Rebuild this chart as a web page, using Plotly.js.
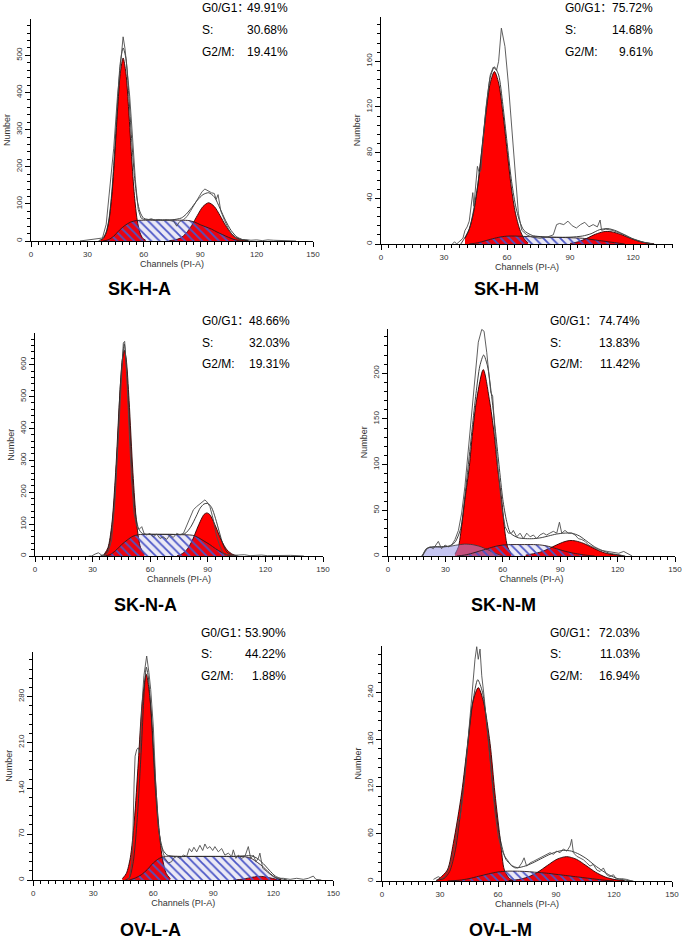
<!DOCTYPE html>
<html>
<head>
<meta charset="utf-8">
<script src="https://cdn.plot.ly/plotly-3.0.1.min.js"></script>
<style>html,body{margin:0;padding:0;background:#fff;}#chart{width:685px;height:939px;}</style>
</head>
<body>
<div id="chart"></div>
<script>
// ---------- labels ----------
const panelNames = ['SK-H-A', 'SK-H-M', 'SK-N-A', 'SK-N-M', 'OV-L-A', 'OV-L-M'];
const g0g1Values = ['49.91%', '75.72%', '48.66%', '74.74%', '53.90%', '72.03%'];
const sValues = ['30.68%', '14.68%', '32.03%', '13.83%', '44.22%', '11.03%'];
const g2mValues = ['19.41%', '9.61%', '19.31%', '11.42%', '1.88%', '16.94%'];
const rowLabels = ['G0/G1：', 'S:', 'G2/M:'];
const xTitle = 'Channels (PI-A)';
const yTitle = 'Number';
const xMax = [150, 139, 150, 150, 150, 150];
const yMax = [600, 200, 700, 250, 350, 300];
const yStep = [100, 40, 100, 50, 70, 60];
const yMinorStep = [20, 8, 20, 10, 14, 12];

// ---------- SK-H-A ----------
const p1_g1x = [37, 38.5, 40, 41.5, 43, 44.5, 46, 47.5, 49, 50.5, 52, 53.5, 55, 56.5, 58, 59.5, 61];
const p1_g1y = [2, 7, 22, 56, 123, 227, 350, 452, 493, 452, 350, 227, 123, 56, 22, 7, 2];
const p1_g2x = [73.5, 76.5, 79.5, 82.5, 85.5, 88.5, 91.5, 94.5, 97.5, 100.5, 103.5, 106.5, 109.5, 112.5, 115.5];
const p1_g2y = [1, 3, 8, 21, 42, 69, 93, 103, 93, 69, 42, 21, 8, 3, 1];
const p1_sx = [38, 41, 44, 47, 50, 53, 56, 60, 70, 80, 84, 87, 90, 93, 96, 99, 102, 105, 108, 111, 113];
const p1_sy = [0, 3, 13, 29, 42, 51, 55, 56, 56, 56, 55, 51, 44, 38, 32, 24, 17, 10, 4, 1, 0];
const p1_fitx = [36, 38, 40, 41.5, 43, 44.5, 46, 47.5, 49, 50.5, 52, 53.5, 55, 56.5, 58, 60, 65, 70, 75, 80, 82.5, 85.5, 88.5, 91.5, 94.5, 97.5, 100.5, 103.5, 106.5, 109.5, 112.5, 116];
const p1_fity = [1, 6, 24, 60, 132, 245, 372, 480, 520, 492, 395, 276, 176, 110, 78, 61, 57, 57, 57, 62, 72, 90, 110, 125, 130, 119, 88, 55, 28, 11, 4, 0];
const p1_rawx = [26, 28, 30, 32, 34, 36, 38, 40, 42, 44, 46, 47.5, 49, 50, 51, 52.5, 54, 55.5, 57, 58.5, 60, 62, 64, 66, 68, 70, 72, 74, 76, 77.5, 79, 81, 83, 85, 87, 89, 91, 92.5, 94, 96, 97.5, 98.5, 99.5, 101, 103, 105, 107, 109, 111, 114, 117, 120, 123, 126, 129, 132, 135, 138, 141];
const p1_rawy = [0, 1, 4, 3, 5, 5, 8, 45, 140, 250, 390, 480, 550, 518, 470, 390, 280, 165, 85, 62, 58, 57, 60, 56, 58, 55, 57, 56, 53, 40, 52, 57, 66, 82, 100, 117, 133, 140, 135, 130, 128, 112, 125, 80, 55, 33, 16, 8, 3, 4, 2, 3, 1, 3, 2, 1, 2, 1, 0];
const p1_marks = [48.7, 92];

// ---------- SK-H-M ----------
const p2_g1x = [40, 42, 44, 46, 48, 50, 52, 54, 56, 58, 60, 62, 64, 66, 68, 70];
const p2_g1y = [5, 13, 27, 50, 82, 115, 141, 151, 141, 115, 82, 50, 27, 13, 5, 1];
const p2_g2x = [90, 94, 98, 102, 106, 108, 110, 114, 118, 122, 126, 130];
const p2_g2y = [0.5, 2, 5, 8.5, 10.8, 11, 10.6, 8.5, 5.5, 2.8, 1, 0.3];
const p2_sx = [42, 46, 50, 54, 58, 62, 70, 80, 90, 96, 100, 104, 108, 112, 116];
const p2_sy = [0, 1, 3, 5, 6.5, 7, 6.5, 6, 5.5, 5, 4, 3, 2, 1, 0];
const p2_fitx = [38, 42, 46, 50, 52, 54, 56, 58, 60, 62, 64, 66, 68, 72, 80, 90, 96, 100, 104, 108, 112, 116, 120, 124, 128];
const p2_fity = [0, 13, 51, 118, 146, 155, 148, 122, 89, 57, 34, 20, 12, 7.5, 6, 6, 7, 9, 12.5, 13.5, 11.5, 8, 4.5, 2, 0.5];
const p2_rawx = [34, 35, 36, 38, 39, 40, 41, 42, 43.7, 44.2, 45.9, 46.8, 47.6, 48.4, 50, 52, 53.5, 55, 56, 57.3, 59, 60.6, 62.2, 63.8, 65.4, 67, 69.4, 72, 75.7, 79, 82, 83.6, 85, 87, 89, 91, 93, 95, 97, 99, 101, 103, 104.3, 105, 107, 110, 113, 116, 119, 122, 125, 128, 130];
const p2_rawy = [0, 2, 0, 3, 5, 12, 15, 20, 45, 33, 68, 62, 65, 86, 120, 148, 155, 152, 160, 189, 173, 141, 103, 62, 27, 12, 8, 6, 5, 6, 8, 17, 18, 17, 20, 16, 14, 17, 19, 15, 17, 15, 21, 12, 13, 12, 10, 8, 5, 3, 1.5, 0.5, 0];
const p2_marks = [56.8, 104.6];

// ---------- SK-N-A ----------
const p3_g1x = [36, 38, 40, 42, 44, 45.5, 46.5, 47.5, 49, 51, 53, 55, 57];
const p3_g1y = [5, 26, 98, 262, 488, 617, 645, 617, 488, 262, 98, 26, 5];
const p3_g2x = [74, 76, 79, 82, 85, 88, 89.5, 91, 94, 97, 100, 103, 105];
const p3_g2y = [1, 5, 19, 50, 94, 130, 135, 130, 94, 50, 19, 5, 1];
const p3_sx = [36, 39, 42, 45, 48, 51, 54, 58, 65, 75, 82, 85, 88, 91, 94, 97, 100, 103];
const p3_sy = [0, 4, 17, 35, 50, 62, 67, 68, 68, 67, 65, 58, 47, 36, 23, 12, 4, 0];
const p3_fitx = [34, 37, 39, 41, 43, 44.5, 46.5, 48, 49.5, 51, 52.5, 54, 56, 60, 70, 78, 81, 84, 86, 88, 90, 92, 94, 96, 98, 100, 103, 106];
const p3_fity = [0, 8, 45, 150, 350, 540, 665, 560, 380, 220, 125, 85, 70, 68, 68, 70, 90, 125, 150, 163, 165, 152, 118, 75, 35, 12, 3, 0];
const p3_rawx = [28, 29.5, 31.3, 33, 34.7, 36.5, 38.2, 39.9, 41.7, 43.4, 44.8, 46, 46.7, 47.7, 49.1, 50.3, 51.6, 52.9, 54.3, 55.6, 56.8, 58.2, 59.9, 61.6, 63.4, 65.1, 66.8, 68.6, 70.3, 72, 73.8, 75.5, 77.3, 79.9, 82.5, 84.2, 86.5, 88.5, 89.5, 91.1, 92.9, 94.6, 96.4, 98.1, 100, 103, 106, 109, 112, 115, 118, 121, 125, 129, 133, 137, 140];
const p3_rawy = [0, 0, 6, 10, 3, 0, 14, 50, 176, 365, 543, 668, 673, 575, 386, 239, 134, 94, 84, 92, 71, 66, 71, 60, 69, 55, 60, 52, 66, 58, 71, 66, 71, 108, 145, 155, 165, 176, 170, 155, 113, 61, 29, 8, 4, 2, 3, 4, 1, 2, 3, 1, 2, 1, 2, 1, 0];
const p3_marks = [46.9, 88.5];

// ---------- SK-N-M ----------
const p4_g1x = [35, 36.8, 38, 40.2, 42.5, 44.2, 46.3, 49.8, 53, 55.4, 57.2, 59.4, 61.2, 62.5, 64.5];
const p4_g1y = [2, 10, 25, 62, 98, 135, 171, 204, 171, 135, 98, 62, 25, 10, 2];
const p4_g2x = [72, 76, 80, 84, 88, 92, 95, 98, 102, 106, 110, 114, 118, 122];
const p4_g2y = [1, 2.5, 4.5, 8, 12, 15.5, 17, 16.5, 14, 10, 6, 3, 1.5, 0.5];
const p4_debrisx = [18, 19.5, 21, 24, 28, 32, 36, 40, 44, 48, 52, 56, 60];
const p4_debrisy = [0, 5, 9, 10, 10, 10.5, 12, 13, 12.5, 10.5, 7, 3, 0];
const p4_sx = [36, 40, 44, 48, 52, 56, 60, 64, 70, 76, 80, 84, 88, 92, 96, 100, 104, 108];
const p4_sy = [0, 1, 3, 5.5, 8, 10.5, 12, 12.5, 12.5, 12.5, 12, 10.5, 8, 5.5, 3.5, 2, 0.8, 0];
const p4_fitx = [18, 20, 24, 28, 32, 35, 38, 40, 42, 44, 46, 48, 50, 52, 54, 56, 58, 60, 62, 64, 68, 72, 76, 80, 84, 88, 92, 96, 100, 104, 108, 112, 116, 120, 124];
const p4_fity = [0, 8, 10, 10, 11, 15, 30, 62, 100, 140, 178, 208, 220, 208, 178, 140, 100, 62, 38, 25, 20, 19, 19, 20, 22, 24, 25, 25, 22, 16, 10, 6, 3, 1.5, 0];
const p4_rawx = [17.6, 20.2, 22, 23.7, 26.3, 28, 29.8, 31.5, 33.3, 35, 36.8, 38.5, 40.2, 42, 43.7, 45.5, 47.2, 49, 50.2, 51.6, 52.4, 53.7, 54.7, 55.9, 57.7, 59.4, 61.2, 62.9, 64.6, 65.5, 67.3, 69, 70.8, 72.5, 74.3, 76, 77.7, 79.4, 81.2, 82.9, 84.6, 86.4, 88.2, 89.6, 90.8, 92.5, 94.3, 96, 97.8, 99.5, 101.3, 103, 104.8, 106.6, 108.4, 110, 111.9, 114.5, 118, 120.6, 123.2, 125.8, 127.6];
const p4_rawy = [0, 8, 10, 8, 16, 8, 12, 10, 12, 18, 28, 47, 76, 116, 157, 201, 234, 248, 246, 223, 208, 179, 175, 135, 91, 54, 32, 25, 25, 28, 21, 25, 19, 25, 21, 23, 19, 23, 25, 23, 25, 27, 25, 37, 25, 28, 25, 25, 23, 19, 18, 16, 12, 10, 8, 7, 6, 5, 4, 3, 5, 2, 0];
const p4_marks = [89.4];

// ---------- OV-L-A ----------
const p5_g1x = [44.5, 46.5, 48.5, 50.5, 52.5, 54.5, 56.5, 58.5, 60.5, 62.5, 64.5, 66.5, 68.5];
const p5_g1y = [2, 10, 34, 90, 180, 273, 314, 273, 180, 90, 34, 10, 2];
const p5_g2x = [100, 103, 106, 109, 112, 113.5, 115, 118, 121, 124];
const p5_g2y = [0, 0.7, 2, 4, 5.3, 5.5, 5.3, 3.5, 1.5, 0.3];
const p5_sx = [48, 51, 54, 57, 60, 63, 66, 75, 90, 100, 106, 109, 112, 115, 118, 121, 124];
const p5_sy = [0, 3, 8, 16, 26, 33, 36, 36, 36, 36, 35.5, 33, 27, 20, 11, 4, 0];
const p5_fitx = [46, 48, 50, 52, 54, 55.5, 56.5, 57.5, 59, 61, 63, 65, 67, 70, 80, 90, 100, 106, 109, 112, 115, 118, 121, 124, 127];
const p5_fity = [0, 3, 28, 95, 200, 290, 325, 310, 250, 140, 70, 45, 38, 36, 36, 36, 36, 37, 37, 33, 25, 15, 6, 2, 0];
const p5_rawx = [46.7, 48, 49.2, 49.7, 50.4, 50.9, 51.7, 52.5, 53.3, 54.2, 55.3, 56.7, 57.8, 58.7, 60, 61.2, 62.5, 63.7, 65, 65.8, 67.5, 69.2, 70, 71.7, 73.3, 75, 76.7, 78, 79.2, 80.3, 81.7, 83.3, 84.7, 85.8, 87, 88.3, 89.7, 90.8, 92.5, 94.2, 95.8, 97.5, 99.2, 100, 101.3, 102.5, 104.2, 105.8, 107.5, 108.7, 110, 111.3, 112.5, 113.3, 114.7, 116.7, 118.3, 120, 122.5, 125, 128.4, 131.7, 135, 137.5, 140, 141.3, 144];
const p5_rawy = [1, 3, 25, 56, 148, 189, 199, 202, 194, 260, 312, 342, 317, 291, 235, 148, 82, 56, 41, 33, 26, 28, 33, 36, 33, 38, 36, 48, 43, 50, 43, 53, 45, 55, 48, 51, 45, 51, 43, 48, 38, 41, 36, 46, 33, 38, 33, 36, 51, 33, 38, 28, 33, 41, 18, 13, 8, 5, 2.6, 2.6, 1, 2.6, 1, 2.6, 6, 1, 0];
const p5_marks = [57.2];

// ---------- OV-L-M ----------
const p6_g1x = [28, 30, 33.8, 36.9, 41.2, 44.3, 47, 49.8, 52.5, 55.9, 58.4, 61.4, 63.3, 66, 69];
const p6_g1y = [0, 4, 14, 48, 112, 175, 228, 246, 228, 175, 112, 48, 14, 3, 0];
const p6_g2x = [65.5, 70.5, 75.5, 80.5, 85.5, 90.5, 95.5, 100.5, 105.5, 110.5, 115.5, 120.5, 125.5];
const p6_g2y = [0.5, 1.8, 5.1, 11.2, 19.7, 27.7, 31, 27.7, 19.7, 11.2, 5.1, 1.8, 0.5];
const p6_sx = [34, 40, 45, 50, 55, 60, 65, 70, 75, 80, 85, 90, 95, 100, 105, 110, 115, 120];
const p6_sy = [0, 1, 3, 6, 9, 11.5, 12.5, 12.5, 12, 11, 10, 8.5, 7, 5.5, 4, 2.5, 1, 0];
const p6_fitx = [28, 32, 35, 38, 41, 44, 47, 49.5, 52, 55, 58, 61, 64, 67, 70, 74, 78, 82, 86, 90, 94, 98, 102, 106, 110, 114, 118, 122, 126, 130];
const p6_fity = [1, 3, 12, 40, 95, 165, 228, 256, 240, 180, 105, 55, 28, 20, 17, 19, 23, 28, 33, 37, 39, 38, 34, 28, 20, 13, 7, 3, 1, 0];
const p6_rawx = [26.6, 29.1, 30.9, 32.6, 34.3, 36, 37.8, 39.5, 40.3, 41.2, 42.9, 44.6, 46.4, 48.1, 49, 49.8, 50.7, 51.6, 52.8, 54.2, 55.4, 56.8, 58.5, 60.2, 61.9, 63.6, 65.4, 67.1, 68.8, 70.5, 72.3, 73.5, 74.8, 76.6, 78.3, 80, 81.7, 83.5, 85.2, 86.9, 88.7, 90.4, 92.1, 93.8, 95.6, 97.3, 98.1, 99, 100.7, 102.5, 104.2, 105.9, 107.6, 109.3, 111.1, 112.8, 114.5, 116.2, 117.9, 119.7, 121.4, 124, 126.6, 129.2];
const p6_rawy = [2, 5.5, 3, 5.5, 14, 27, 48, 78, 79, 95, 133, 184, 235, 282, 298, 282, 295, 261, 235, 197, 167, 125, 86, 56, 40, 31, 25, 19, 16.6, 16.6, 23, 29.5, 19, 23, 25, 27, 29.5, 31.5, 34, 36, 34, 38, 36, 40.7, 38, 44.7, 53, 36, 31.5, 29.5, 27, 23, 19, 21, 14, 12, 16.6, 8, 5.5, 8, 2, 3, 2, 0];
const p6_marks = [];

// ---------- assembly ----------
const W = 685, H = 939;
const FONT = 'Liberation Sans, Arial, Helvetica, sans-serif';
const STAT_FONT = 'Liberation Sans, Arial, "Noto Sans CJK SC", sans-serif';
const panelData = [
  {g1x: p1_g1x, g1y: p1_g1y, g2x: p1_g2x, g2y: p1_g2y, sx: p1_sx, sy: p1_sy, fitx: p1_fitx, fity: p1_fity, rawx: p1_rawx, rawy: p1_rawy, marks: p1_marks},
  {g1x: p2_g1x, g1y: p2_g1y, g2x: p2_g2x, g2y: p2_g2y, sx: p2_sx, sy: p2_sy, fitx: p2_fitx, fity: p2_fity, rawx: p2_rawx, rawy: p2_rawy, marks: p2_marks},
  {g1x: p3_g1x, g1y: p3_g1y, g2x: p3_g2x, g2y: p3_g2y, sx: p3_sx, sy: p3_sy, fitx: p3_fitx, fity: p3_fity, rawx: p3_rawx, rawy: p3_rawy, marks: p3_marks},
  {g1x: p4_g1x, g1y: p4_g1y, g2x: p4_g2x, g2y: p4_g2y, sx: p4_sx, sy: p4_sy, fitx: p4_fitx, fity: p4_fity, rawx: p4_rawx, rawy: p4_rawy, marks: p4_marks, debrisx: p4_debrisx, debrisy: p4_debrisy},
  {g1x: p5_g1x, g1y: p5_g1y, g2x: p5_g2x, g2y: p5_g2y, sx: p5_sx, sy: p5_sy, fitx: p5_fitx, fity: p5_fity, rawx: p5_rawx, rawy: p5_rawy, marks: p5_marks},
  {g1x: p6_g1x, g1y: p6_g1y, g2x: p6_g2x, g2y: p6_g2y, sx: p6_sx, sy: p6_sy, fitx: p6_fitx, fity: p6_fity, rawx: p6_rawx, rawy: p6_rawy, marks: p6_marks}
];

// plot-area geometry in pixels (left, right, bottom, top)
const geom = [
  {x0: 31, x1: 313, yb: 241, yt: 19},
  {x0: 381, x1: 673, yb: 244, yt: 16.5},
  {x0: 35, x1: 323, yb: 556, yt: 333.4},
  {x0: 388, x1: 675, yb: 556, yt: 328.5},
  {x0: 33.3, x1: 333.3, yb: 880, yt: 651.7},
  {x0: 382, x1: 672, yb: 881, yt: 646.1}
];
const statPos = [
  {lx: 200, rx: 290, ys: [7.5, 30, 52]},
  {lx: 563, rx: 655, ys: [7.5, 30.5, 52]},
  {lx: 200, rx: 292, ys: [320.7, 342.7, 364]},
  {lx: 548, rx: 642, ys: [320.7, 342.7, 364]},
  {lx: 199, rx: 288, ys: [632.7, 654.3, 676]},
  {lx: 548, rx: 642, ys: [632.7, 654, 675.7]}
];
const namePos = [
  {x: 139.5, y: 288.5}, {x: 506.5, y: 289},
  {x: 145, y: 605}, {x: 504, y: 605},
  {x: 150.7, y: 930}, {x: 500, y: 930}
];

const traces = [];
const layout = {
  width: W, height: H,
  margin: {l: 0, r: 0, t: 0, b: 0},
  paper_bgcolor: '#ffffff', plot_bgcolor: 'rgba(0,0,0,0)',
  showlegend: false, hovermode: false,
  font: {family: FONT, color: '#222'},
  annotations: []
};

panelData.forEach((p, i) => {
  const k = i + 1;
  const xa = k === 1 ? 'x' : 'x' + k;
  const ya = k === 1 ? 'y' : 'y' + k;
  const g = geom[i];
  const base = {xaxis: xa, yaxis: ya, hoverinfo: 'skip', showlegend: false};
  const redStyle = {fill: 'tozeroy', fillcolor: '#ff0000', line: {color: '#2a0000', width: 0.9, shape: 'spline', smoothing: 0.8}, mode: 'lines'};

  traces.push(Object.assign({}, base, redStyle, {x: p.g1x, y: p.g1y, name: 'G0/G1'}));
  traces.push(Object.assign({}, base, redStyle, {x: p.g2x, y: p.g2y, name: 'G2/M'}));
  if (p.debrisx) {
    traces.push(Object.assign({}, base, {
      x: p.debrisx, y: p.debrisy, name: 'Debris', mode: 'lines', fill: 'tozeroy',
      fillcolor: 'rgba(150,150,230,0.55)', line: {color: '#333', width: 0.8, shape: 'spline', smoothing: 0.6}
    }));
  }
  traces.push(Object.assign({}, base, {
    x: p.sx, y: p.sy, name: 'S', mode: 'lines', fill: 'tozeroy',
    fillcolor: 'rgba(60,40,160,0.10)',
    fillpattern: {shape: '\\', fgcolor: '#4a55c6', bgcolor: 'rgba(60,40,160,0.10)', size: 6, solidity: 0.3},
    line: {color: '#2a1a1a', width: 0.9, shape: 'spline', smoothing: 0.8}
  }));
  traces.push(Object.assign({}, base, {
    x: p.fitx, y: p.fity, name: 'Fit', mode: 'lines',
    line: {color: '#2b2b2b', width: 0.9, shape: 'spline', smoothing: 0.7}
  }));
  traces.push(Object.assign({}, base, {
    x: p.rawx, y: p.rawy, name: 'Data', mode: 'lines',
    line: {color: '#4d4d4d', width: 0.9}
  }));
  if (p.marks.length) {
    const pxPerUnit = (g.yb - g.yt) / yMax[i];
    const off = -4.6 / pxPerUnit;
    traces.push(Object.assign({}, base, {
      x: p.marks, y: p.marks.map(() => off), mode: 'markers', cliponaxis: false,
      marker: {symbol: 'triangle-up', size: 7.5, color: '#000', line: {width: 0}}
    }));
  }

  layout['xaxis' + (k === 1 ? '' : k)] = {
    domain: [g.x0 / W, g.x1 / W], range: [0, xMax[i]], anchor: ya,
    tick0: 0, dtick: 30, ticks: 'outside', ticklen: 5, tickwidth: 1, tickcolor: '#000',
    minor: {tick0: 0, dtick: 3.75, ticks: 'outside', ticklen: 3, tickwidth: 1, tickcolor: '#000', showgrid: false},
    showline: true, linecolor: '#000', linewidth: 1, showgrid: false, zeroline: false,
    tickfont: {family: FONT, size: 8, color: '#333'},
    title: {text: xTitle, font: {family: FONT, size: 9, color: '#333'}, standoff: 1},
    fixedrange: true
  };
  // top of the axis stops just short of the next labelled step, as in the source
  const yTop = yMax[i] - yStep[i] * 0.02;
  layout['yaxis' + (k === 1 ? '' : k)] = {
    domain: [1 - g.yb / H, 1 - g.yt / H], range: [0, yTop], anchor: xa,
    tick0: 0, dtick: yStep[i], ticks: 'outside', ticklen: 5, tickwidth: 1, tickcolor: '#000',
    minor: {tick0: 0, dtick: yMinorStep[i], ticks: 'outside', ticklen: 3, tickwidth: 1, tickcolor: '#000', showgrid: false},
    tickangle: -90,
    showline: true, linecolor: '#000', linewidth: 1, showgrid: false, zeroline: false,
    tickfont: {family: FONT, size: 8, color: '#333'},
    title: {text: yTitle, font: {family: FONT, size: 9, color: '#333'}, standoff: 2},
    fixedrange: true
  };

  const sp = statPos[i];
  const vals = [g0g1Values[i], sValues[i], g2mValues[i]];
  rowLabels.forEach((lab, r) => {
    layout.annotations.push({
      xref: 'paper', yref: 'paper', x: sp.lx / W, y: 1 - sp.ys[r] / H,
      xanchor: 'left', yanchor: 'middle', showarrow: false, text: lab,
      font: {family: STAT_FONT, size: 12, color: '#000'}
    });
    layout.annotations.push({
      xref: 'paper', yref: 'paper', x: sp.rx / W, y: 1 - sp.ys[r] / H,
      xanchor: 'right', yanchor: 'middle', showarrow: false, text: vals[r],
      font: {family: FONT, size: 12, color: '#000'}
    });
  });
  layout.annotations.push({
    xref: 'paper', yref: 'paper', x: namePos[i].x / W, y: 1 - namePos[i].y / H,
    xanchor: 'center', yanchor: 'middle', showarrow: false,
    text: '<b>' + panelNames[i] + '</b>',
    font: {family: FONT, size: 18, color: '#000'}
  });
});

Plotly.newPlot('chart', traces, layout, {staticPlot: true, displayModeBar: false});
</script>
</body>
</html>
